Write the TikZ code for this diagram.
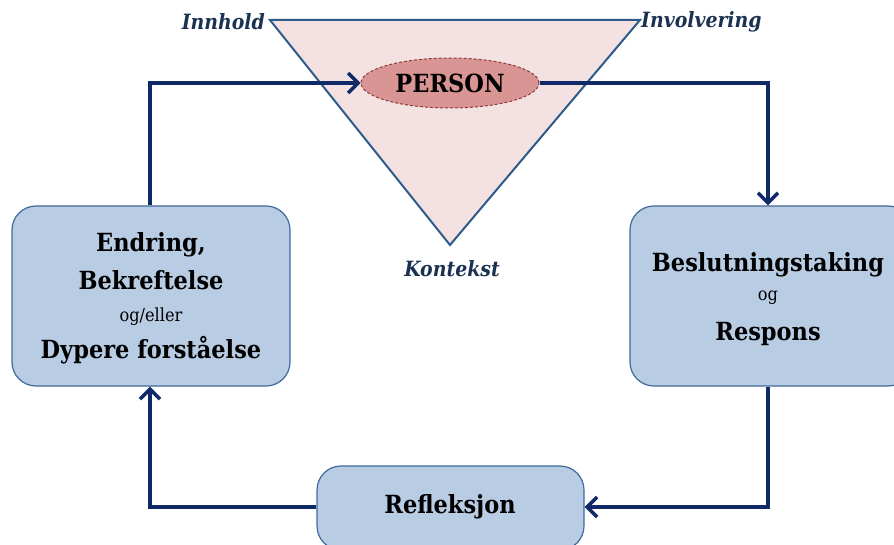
\documentclass[tikz,border=0pt]{standalone}
\usepackage{fontspec}
\setmainfont{DejaVu Serif Condensed}
\usetikzlibrary{arrows.meta,shapes.geometric}
\definecolor{navy}{HTML}{0F2A66}
\definecolor{boxfill}{HTML}{B8CCE4}
\definecolor{boxline}{HTML}{3F6A9E}
\definecolor{trifill}{HTML}{F4E2E2}
\definecolor{triline}{HTML}{2E5A8A}
\definecolor{ellfill}{HTML}{D99594}
\definecolor{ellline}{HTML}{8E3A3A}
\definecolor{labcol}{HTML}{1B3152}
\tikzset{
  cyclebox/.style={draw=boxline, line width=1.2pt, fill=boxfill, rounded corners=24pt, inner sep=0pt},
  flow/.style={draw=navy, line width=4pt, -{Straight Barb[length=10pt,width=20pt,line width=3.5pt]}},
  corner/.style={font=\bfseries\itshape\fontsize{21}{24}\selectfont, text=labcol, inner sep=0pt},
  big/.style={font=\bfseries\fontsize{25}{28}\selectfont, inner sep=0pt, anchor=base},
  small/.style={font=\fontsize{18}{20}\selectfont, inner sep=0pt, anchor=base}
}
\begin{document}
\begin{tikzpicture}[x=1pt,y=-1pt]
\useasboundingbox (0,0) rectangle (894,545);
% triangle
\coordinate (tl) at (270,20);
\coordinate (tr) at (640,20);
\coordinate (tb) at (450,245);
\draw[draw=triline, line width=2pt, fill=trifill, line join=miter] (tl) -- (tr) -- (tb) -- cycle;
\node[corner, anchor=east] (inn) at (265,22) {Innhold};
\node[corner, anchor=west] (inv) at (641,22) {Involvering};
\node[corner] (kon) at (452,269) {Kontekst};
% person
\node[ellipse, draw=ellline, dash pattern=on 3pt off 2pt, line width=1pt, fill=ellfill, minimum width=178pt, minimum height=50pt, inner sep=0pt, font=\bfseries\fontsize{25}{28}\selectfont] (person) at (450,83) {PERSON};
% boxes
\node[cyclebox, minimum width=278pt, minimum height=180pt] (lbox) at (151,296) {};
\node[big] (l1) at (151,252) {Endring,};
\node[big] (l2) at (151,290) {Bekreftelse};
\node[small] (l3) at (151,322) {og/eller};
\node[big] (l4) at (151,358) {Dypere forståelse};
\node[cyclebox, minimum width=282pt, minimum height=180pt] (rbox) at (771,296) {};
\node[big] (r1) at (768,272) {Beslutningstaking};
\node[small] (r2) at (768,301) {og};
\node[big] (r3) at (768,340) {Respons};
\node[cyclebox, minimum width=267pt, minimum height=84pt] (bbox) at (450.5,508) {};
\node[big, anchor=center] (refl) at (450,507) {Refleksjon};
% connectors
\coordinate (lx) at (150,83);
\coordinate (rx) at (768,83);
\coordinate (by) at (0,507);
\draw[flow] (lbox.north -| lx) -- (lx) -- (person.west);
\draw[flow] (person.east) -- (rx) -- (rbox.north -| rx);
\draw[flow] (rbox.south -| rx) -- (rx |- by) -- (bbox.east |- by);
\draw[flow] (bbox.west |- by) -- (lx |- by) -- (lbox.south -| lx);
\end{tikzpicture}
\end{document}
